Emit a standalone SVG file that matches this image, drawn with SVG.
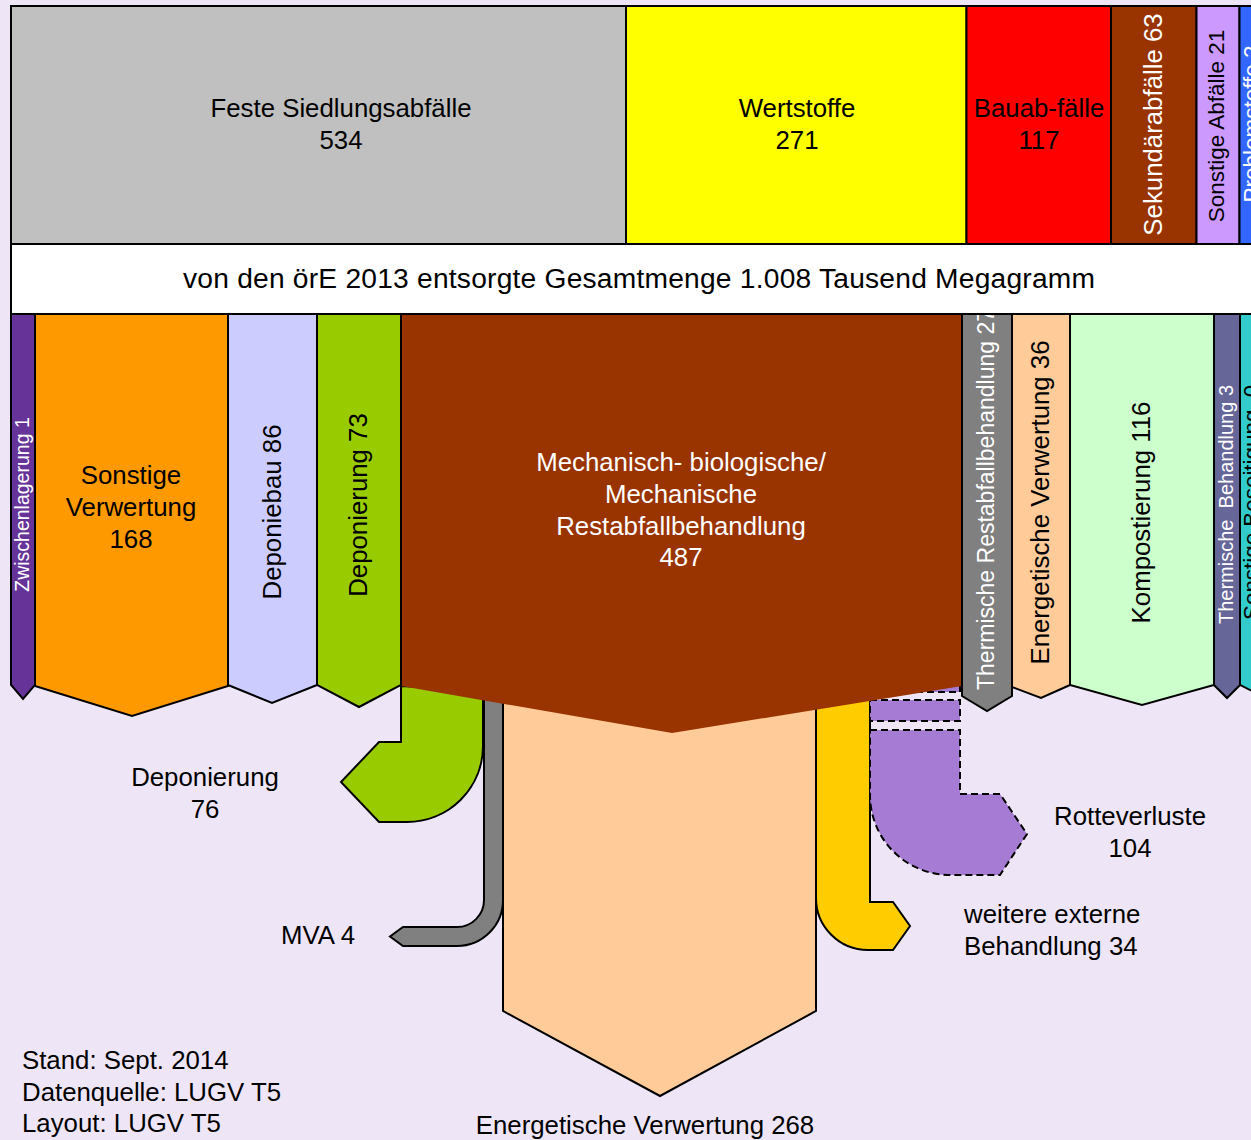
<svg xmlns="http://www.w3.org/2000/svg" width="1251" height="1140" viewBox="0 0 1251 1140">
<defs>
<style>
text{font-family:"Liberation Sans",Arial,sans-serif;font-size:25.8px;fill:#000}
.w{fill:#fff}
.c{text-anchor:middle}
.box{stroke:#000;stroke-width:2;stroke-linejoin:miter}
.flow{stroke:#000;stroke-width:2;stroke-linejoin:miter}
.dash{stroke:#000;stroke-width:2;stroke-dasharray:7,4;fill:#A67BD3}
</style>
</defs>
<rect width="1251" height="1140" fill="#EEE6F6"/>

<g id="connectors">
  <g id="flow-deponierung-76">
    <path class="flow" fill="#99CC00" d="M401,686 L401,742 L379,742 L341,782 L379,822 L407,822 A76,76 0 0 0 483,746 L483,690 Z"/>
    <text class="c" x="205" y="786">Deponierung</text>
    <text class="c" x="205" y="818">76</text>
  </g>
  <g id="flow-mva-4">
    <path class="flow" fill="#808080" d="M484,690 L484,900 A27,27 0 0 1 457,927 L403,927 L390,936.5 L403,946 L457,946 A46,46 0 0 0 503,900 L503,690 Z"/>
    <text x="355" y="944" text-anchor="end">MVA 4</text>
  </g>
  <g id="flow-energetische-268">
    <path class="flow" fill="#FFCC99" d="M503,690 L503,1011 L660,1096 L816,1011 L816,690 Z"/>
    <text class="c" x="645" y="1134">Energetische Verwertung 268</text>
  </g>
  <g id="flow-weitere-34">
    <path class="flow" fill="#FFCC00" d="M816,690 L816,898 A52,52 0 0 0 868,950 L893,950 L910,926 L893,902 L870,902 L870,690 Z"/>
    <text x="964" y="923">weitere externe</text>
    <text x="964" y="955">Behandlung 34</text>
  </g>
  <g id="flow-rotteverluste-104">
    <rect class="dash" x="870" y="676" width="90" height="16"/>
    <rect class="dash" x="870" y="700" width="90" height="21"/>
    <path class="dash" d="M870,730 L960,730 L960,794 L1000,794 L1027,834 L1000,875 L950,875 A80,80 0 0 1 870,795 Z"/>
    <text class="c" x="1130" y="825">Rotteverluste</text>
    <text class="c" x="1130" y="857">104</text>
  </g>
</g>

<g id="mba">
  <polygon fill="#993300" points="401,314 962,314 962,686 672,733 401,686"/>
  <text class="c w" x="681" y="471">Mechanisch- biologische/</text>
  <text class="c w" x="681" y="503">Mechanische</text>
  <text class="c w" x="681" y="535">Restabfallbehandlung</text>
  <text class="c w" x="681" y="566">487</text>
</g>

<g id="zwischenlagerung">
  <polygon class="box" fill="#663399" points="11,314 35,314 35,685 23,699 11,685"/>
  <text class="c w" style="font-size:19.5px" transform="translate(29,504.5) rotate(-90)">Zwischenlagerung 1</text>
</g>
<g id="sonstige-verwertung">
  <polygon class="box" fill="#FF9900" points="35,314 228,314 228,686 132,716 35,686"/>
  <text class="c" x="131" y="484">Sonstige</text>
  <text class="c" x="131" y="516">Verwertung</text>
  <text class="c" x="131" y="548">168</text>
</g>
<g id="deponiebau">
  <polygon class="box" fill="#CCCCFF" points="228,314 317,314 317,685 272,703 228,685"/>
  <text class="c" transform="translate(281,512) rotate(-90)">Deponiebau 86</text>
</g>
<g id="deponierung-73">
  <polygon class="box" fill="#99CC00" points="317,314 401,314 401,685 359,707 317,685"/>
  <text class="c" transform="translate(367,505) rotate(-90)">Deponierung 73</text>
</g>
<g id="thermische-restabfall">
  <polygon class="box" fill="#808080" points="962,314 1012,314 1012,696 987,711 962,696"/>
  <text class="w" style="font-size:23px" transform="translate(994,690) rotate(-90)">Thermische Restabfallbehandlung 27</text>
</g>
<g id="energetische-36">
  <polygon class="box" fill="#FFCC99" points="1012,314 1070,314 1070,685 1041,698 1012,687"/>
  <text class="c" transform="translate(1049,502.5) rotate(-90)">Energetische Verwertung 36</text>
</g>
<g id="kompostierung">
  <polygon class="box" fill="#CCFFCC" points="1070,314 1214,314 1214,685 1142,705 1070,685"/>
  <text class="c" transform="translate(1150,512.5) rotate(-90)">Kompostierung 116</text>
</g>
<g id="thermische-behandlung">
  <polygon class="box" fill="#666699" points="1214,314 1240,314 1240,685 1227,698 1214,685"/>
  <text class="c w" xml:space="preserve" style="font-size:20px" transform="translate(1233,504.5) rotate(-90)">Thermische  Behandlung 3</text>
</g>
<g id="sonstige-beseitigung">
  <polygon class="box" fill="#33CCCC" points="1240,314 1300,314 1300,685 1270,700 1240,685"/>
  <text xml:space="preserve" style="font-size:22.4px" transform="translate(1259,620) rotate(-90)">Sonstige Beseitigung  0</text>
</g>

<g id="gesamtmenge">
  <rect class="box" fill="#FFFFFF" x="11" y="244" width="1300" height="70"/>
  <text class="c" style="font-size:28.2px" x="639" y="288" textLength="912" lengthAdjust="spacing">von den örE 2013 entsorgte Gesamtmenge 1.008 Tausend Megagramm</text>
</g>

<g id="feste-siedlungsabfaelle">
  <rect class="box" fill="#C0C0C0" x="11" y="6" width="615" height="238"/>
  <text class="c" x="341" y="117">Feste Siedlungsabfälle</text>
  <text class="c" x="341" y="149">534</text>
</g>
<g id="wertstoffe">
  <rect class="box" fill="#FFFF00" x="626" y="6" width="340.5" height="238"/>
  <text class="c" x="797" y="117">Wertstoffe</text>
  <text class="c" x="797" y="149">271</text>
</g>
<g id="bauabfaelle">
  <rect class="box" fill="#FF0000" x="966.5" y="6" width="144.5" height="238"/>
  <text class="c" x="1039" y="117">Bauab-fälle</text>
  <text class="c" x="1039" y="149">117</text>
</g>
<g id="sekundaerabfaelle">
  <rect class="box" fill="#993300" x="1111" y="6" width="85.5" height="238"/>
  <text class="c w" transform="translate(1162,124.5) rotate(-90)">Sekundärabfälle 63</text>
</g>
<g id="sonstige-abfaelle">
  <rect class="box" fill="#CC99FF" x="1196.5" y="6" width="43" height="238"/>
  <text class="c" style="font-size:22.5px" transform="translate(1224,126) rotate(-90)">Sonstige Abfälle 21</text>
</g>
<g id="problemstoffe">
  <rect class="box" fill="#3366FF" x="1239.5" y="6" width="60" height="238"/>
  <text class="c w" style="font-size:22.5px" transform="translate(1259,124) rotate(-90)">Problemstoffe 2</text>
</g>

<g id="info">
  <text x="22" y="1069">Stand: Sept. 2014</text>
  <text x="22" y="1101">Datenquelle: LUGV T5</text>
  <text x="22" y="1132">Layout: LUGV T5</text>
</g>
</svg>
